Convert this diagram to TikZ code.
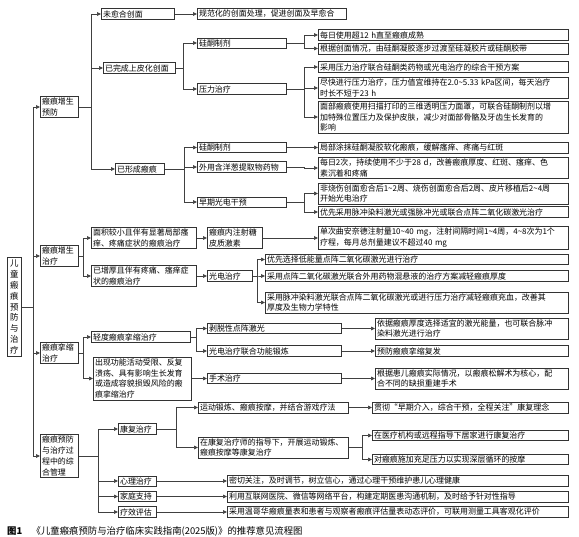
\documentclass[tikz,border=0pt]{standalone}
\usepackage{fontspec}
\setmainfont{Noto Sans CJK SC}
\usepackage{tikz}
\usetikzlibrary{arrows.meta, shadows}
\newcommand{\boxfont}{\fontsize{6.8}{9.2}\selectfont}
\newcommand{\rng}{\textasciitilde}

\begin{document}
\begin{tikzpicture}[
  x=0.03cm, y=-0.03cm,
  box/.style={draw=black!80, line width=0.5pt, fill=white, anchor=west, align=left, inner xsep=1.5pt, inner ysep=1.3pt, font=\boxfont, general shadow={shadow xshift=0.6pt, shadow yshift=-0.6pt, fill=black!35}},
  wd/.style={text width=#1*0.03cm-3pt},
  rootbox/.style={box, align=center, inner ysep=2pt, font=\fontsize{7.2}{9.3}\selectfont},
  link/.style={draw=black!75, line width=0.6pt, -{Triangle[length=1.2mm, width=1.1mm]}},
  caption/.style={anchor=west, inner sep=0pt, font=\fontsize{8}{10}\selectfont}
]
\path[fill=white] (0,0) rectangle (579,537);
\useasboundingbox (0,0) rectangle (579,537);
\node[rootbox, wd=14] (root) at (7,307) {儿\\童\\瘢\\痕\\预\\防\\与\\治\\疗};
\node[box, wd=38] (pre) at (40,107) {瘢痕增生\\预防};
\node[box, wd=38] (trt) at (40,256) {瘢痕增生\\治疗};
\node[box, wd=38] (con) at (40,353) {瘢痕挛缩\\治疗};
\node[box, wd=38] (mgt) at (40,456) {瘢痕预防\\与治疗过\\程中的综\\合管理};
\node[box, wd=73] (wound) at (101,14) {未愈合创面};
\node[box, wd=149] (woundA) at (197,14) {规范化的创面处理，促进创面及早愈合};
\node[box, wd=72] (epi) at (103,68) {已完成上皮化创面};
\node[box, wd=89] (sil) at (197,43) {硅酮制剂};
\node[box, wd=250] (silA) at (318,35) {每日使用超12 h直至瘢痕成熟};
\node[box, wd=250] (silB) at (318,48.5) {根据创面情况，由硅酮凝胶逐步过渡至硅凝胶片或硅酮胶带};
\node[box, wd=89] (pres) at (197,89) {压力治疗};
\node[box, wd=250] (presA) at (318,67) {采用压力治疗联合硅酮类药物或光电治疗的综合干预方案};
\node[box, wd=250] (presB) at (318,88) {尽快进行压力治疗，压力值宜维持在2.0\rng5.33 kPa区间，每天治疗\\时长不短于23 h};
\node[box, wd=250] (presC) at (318,117) {面部瘢痕使用扫描打印的三维透明压力面罩，可联合硅酮制剂以增\\加特殊位置压力及保护皮肤，减少对面部骨骼及牙齿生长发育的\\影响};
\node[box, wd=49] (scar) at (115,169) {已形成瘢痕};
\node[box, wd=89] (gel) at (197,147.5) {硅酮制剂};
\node[box, wd=250] (gelA) at (318,147.5) {局部涂抹硅酮凝胶软化瘢痕，缓解瘙痒、疼痛与红斑};
\node[box, wd=89] (onion) at (197,167) {外用含洋葱提取物药物};
\node[box, wd=250] (onionA) at (318,168) {每日2次，持续使用不少于28 d，改善瘢痕厚度、红斑、瘙痒、色\\素沉着和疼痛};
\node[box, wd=89] (early) at (197,202) {早期光电干预};
\node[box, wd=250] (earlyA) at (318,193.5) {非烧伤创面愈合后1\rng2周、烧伤创面愈合后2周、皮片移植后2\rng4周\\开始光电治疗};
\node[box, wd=250] (earlyB) at (318,212) {优先采用脉冲染料激光或强脉冲光或联合点阵二氧化碳激光治疗};
\node[box, wd=105] (small) at (91,238) {面积较小且伴有显著局部瘙\\痒、疼痛症状的瘢痕治疗};
\node[box, wd=55] (inj) at (207,238) {瘢痕内注射糖\\皮质激素};
\node[box, wd=250] (injA) at (318,238) {单次曲安奈德注射量10\rng40 mg，注射间隔时间1\rng4周，4\rng8次为1个\\疗程，每月总剂量建议不超过40 mg};
\node[box, wd=105] (thick) at (91,276) {已增厚且伴有疼痛、瘙痒症\\状的瘢痕治疗};
\node[box, wd=45] (photo) at (207,276) {光电治疗};
\node[box, wd=303] (photoA) at (265,259.5) {优先选择低能量点阵二氧化碳激光进行治疗};
\node[box, wd=303] (photoB) at (265,276) {采用点阵二氧化碳激光联合外用药物混悬液的治疗方案减轻瘢痕厚度};
\node[box, wd=303] (photoC) at (265,302.5) {采用脉冲染料激光联合点阵二氧化碳激光或进行压力治疗减轻瘢痕充血，改善其\\厚度及生物力学特性};
\node[box, wd=99] (mild) at (91,337) {轻度瘢痕挛缩治疗};
\node[box, wd=134] (abl) at (207,328.5) {剥脱性点阵激光};
\node[box, wd=193] (ablA) at (375,328.5) {依据瘢痕厚度选择适宜的激光能量，也可联合脉冲\\染料激光进行治疗};
\node[box, wd=134] (pfx) at (207,351) {光电治疗联合功能锻炼};
\node[box, wd=193] (pfxA) at (375,351) {预防瘢痕挛缩复发};
\node[box, wd=98] (sev) at (93,378.5) {出现功能活动受限、反复\\溃疡、具有影响生长发育\\或造成容貌损毁风险的瘢\\痕挛缩治疗};
\node[box, wd=134] (surg) at (207,378.5) {手术治疗};
\node[box, wd=193] (surgA) at (375,378.5) {根据患儿瘢痕实际情况，以瘢痕松解术为核心，配\\合不同的缺损重建手术};
\node[box, wd=38] (rehab) at (118,429) {康复治疗};
\node[box, wd=150] (ex) at (198,407.5) {运动锻炼、瘢痕按摩，并结合游戏疗法};
\node[box, wd=196] (exA) at (372,407.5) {贯彻“早期介入，综合干预，全程关注”康复理念};
\node[box, wd=150] (guide) at (198,447.5) {在康复治疗师的指导下，开展运动锻炼、\\瘢痕按摩等康复治疗};
\node[box, wd=196] (home) at (372,435.5) {在医疗机构或远程指导下居家进行康复治疗};
\node[box, wd=196] (mass) at (372,459.5) {对瘢痕施加充足压力以实现深层循环的按摩};
\node[box, wd=38] (psy) at (118,481) {心理治疗};
\node[box, wd=341] (psyA) at (227,481) {密切关注，及时调节，树立信心，通过心理干预维护患儿心理健康};
\node[box, wd=38] (fam) at (118,496.5) {家庭支持};
\node[box, wd=341] (famA) at (227,496.5) {利用互联网医院、微信等网络平台，构建定期医患沟通机制，及时给予针对性指导};
\node[box, wd=38] (eval) at (118,512) {疗效评估};
\node[box, wd=341] (evalA) at (227,512) {采用温哥华瘢痕量表和患者与观察者瘢痕评估量表动态评价，可联用测量工具客观化评价};
\node[caption] (cap) at (7,531) {\textbf{图1}\quad《儿童瘢痕预防与治疗临床实践指南(2025版)》的推荐意见流程图};
\draw[link] (root.east) -- ++(12,0) |- (pre.west);
\draw[link] (root.east) -- ++(12,0) |- (trt.west);
\draw[link] (root.east) -- ++(12,0) |- (con.west);
\draw[link] (root.east) -- ++(12,0) |- (mgt.west);
\draw[link] (pre.east) -- ++(13,0) |- (wound.west);
\draw[link] (pre.east) -- ++(13,0) |- (epi.west);
\draw[link] (pre.east) -- ++(13,0) |- (scar.west);
\draw[link] (wound.east) -- (woundA.west);
\draw[link] (epi.east) -- ++(8,0) |- (sil.west);
\draw[link] (epi.east) -- ++(8,0) |- (pres.west);
\draw[link] (sil.east) -- ++(18,0) |- (silA.west);
\draw[link] (sil.east) -- ++(18,0) |- (silB.west);
\draw[link] (pres.east) -- ++(18,0) |- (presA.west);
\draw[link] (pres.east) -- ++(18,0) |- (presB.west);
\draw[link] (pres.east) -- ++(18,0) |- (presC.west);
\draw[link] (scar.east) -- ++(20,0) |- (gel.west);
\draw[link] (scar.east) -- ++(20,0) |- (onion.west);
\draw[link] (scar.east) -- ++(20,0) |- (early.west);
\draw[link] (gel.east) -- (gelA.west);
\draw[link] (onion.east) -- ++(18,0) |- (onionA.west);
\draw[link] (early.east) -- ++(18,0) |- (earlyA.west);
\draw[link] (early.east) -- ++(18,0) |- (earlyB.west);
\draw[link] (trt.east) -- ++(5,0) |- (small.west);
\draw[link] (trt.east) -- ++(5,0) |- (thick.west);
\draw[link] (small.east) -- (inj.west);
\draw[link] (inj.east) -- (injA.west);
\draw[link] (thick.east) -- (photo.west);
\draw[link] (photo.east) -- ++(5,0) |- (photoA.west);
\draw[link] (photo.east) -- ++(5,0) |- (photoB.west);
\draw[link] (photo.east) -- ++(5,0) |- (photoC.west);
\draw[link] (con.east) -- ++(5,0) |- (mild.west);
\draw[link] (con.east) -- ++(5,0) |- (sev.west);
\draw[link] (mild.east) -- ++(6,0) |- (abl.west);
\draw[link] (mild.east) -- ++(6,0) |- (pfx.west);
\draw[link] (abl.east) -- (ablA.west);
\draw[link] (pfx.east) -- (pfxA.west);
\draw[link] (sev.east) -- (surg.west);
\draw[link] (surg.east) -- (surgA.west);
\draw[link] (mgt.east) -- ++(20,0) |- (rehab.west);
\draw[link] (mgt.east) -- ++(20,0) |- (psy.west);
\draw[link] (mgt.east) -- ++(20,0) |- (fam.west);
\draw[link] (mgt.east) -- ++(20,0) |- (eval.west);
\draw[link] (rehab.east) -- ++(20,0) |- (ex.west);
\draw[link] (rehab.east) -- ++(20,0) |- (guide.west);
\draw[link] (ex.east) -- (exA.west);
\draw[link] (guide.east) -- ++(14,0) |- (home.west);
\draw[link] (guide.east) -- ++(14,0) |- (mass.west);
\draw[link] (psy.east) -- (psyA.west);
\draw[link] (fam.east) -- (famA.west);
\draw[link] (eval.east) -- (evalA.west);
\end{tikzpicture}
\end{document}
